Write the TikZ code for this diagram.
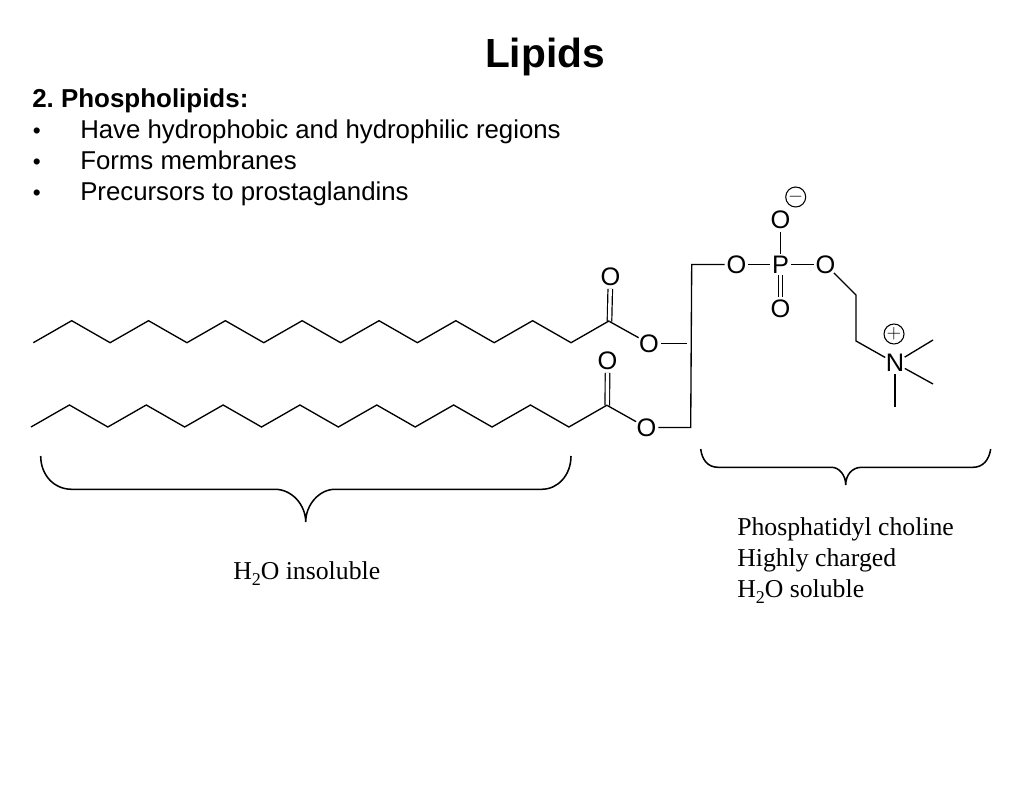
\documentclass[tikz,border=0pt]{standalone}
\usepackage{fontspec}
\setmainfont{Liberation Serif}
\setsansfont{Liberation Sans}
\usetikzlibrary{positioning}
\newcommand{\lowtwo}{\raisebox{-0.25em}{\fontsize{13.5}{13.5}\selectfont 2}}
\frenchspacing
\tikzset{bond/.style = {line width=1pt, line join=miter, black},
         dbond/.style = {double, double distance=2.5pt, line width=0.9pt},
         brace/.style = {line width=1.15pt},
         atom/.style = {circle, inner sep=0pt, outer sep=-1pt, font=\sffamily\fontsize{19}{20}\selectfont},
         charge/.style = {circle, draw, line width=0.8pt, inner sep=0pt, minimum size=15pt, font=\fontsize{14}{14}\selectfont},
         heading/.style = {anchor=base west, inner sep=0pt, font=\sffamily\bfseries\fontsize{19.45}{20}\selectfont},
         item/.style = {anchor=base west, inner sep=0pt, font=\sffamily\fontsize{19.35}{20}\selectfont},
         note/.style = {anchor=base west, inner sep=0pt, align=left, font=\fontsize{19.3}{23}\selectfont}}

\begin{document}
\begin{tikzpicture}[x=0.75pt, y=-0.75pt]
    \useasboundingbox (0, 0) rectangle (1024, 791);

    \node [font=\sffamily\bfseries\fontsize{30.5}{32}\selectfont] (title) at (545, 57) {Lipids};
    \node [heading] (head) at (32, 108) {2. Phospholipids:};
    \foreach \y/\name/\txt in {139/hydro/Have hydrophobic and hydrophilic regions,
                               170/membr/Forms membranes,
                               201/prost/Precursors to prostaglandins} {
      \node [item, font=\sffamily\fontsize{17}{17}\selectfont] (b\name) at (32.7, \y) {•};
      \node [item] (\name) at (80, \y) {\txt};
    }

    % carbons
    \coordinate (c1) at (609.5, 321.5);
    \coordinate (c2) at (607.3, 405.5);
    \coordinate (gtop) at (691.7, 264.5);
    \coordinate (gmid) at (687, 343.5);
    \coordinate (gbot) at (690.7, 427.5);
    \coordinate (ch1) at (856, 295);
    \coordinate (ch2) at (856, 341);
    \coordinate (me1) at (933, 340);
    \coordinate (me2) at (933, 384);
    \coordinate (me3) at (895, 407);

    % atoms
    \node [atom] (o1) at (610.5, 277) {O};
    \node [atom] (o2) at (607.5, 361) {O};
    \node [atom] (oe1) at (649, 343.5) {O};
    \node [atom] (oe2) at (646.5, 427.5) {O};
    \node [atom] (op) at (736.5, 264.5) {O};
    \node [atom] (p) at (780.5, 264.5) {P};
    \node [atom] (oc) at (825.5, 264.5) {O};
    \node [atom] (ot) at (780.5, 220) {O};
    \node [atom] (ob) at (780.5, 309) {O};
    \node [atom] (n) at (895, 363) {N};
    \node [charge] (minus) at (795.7, 197) {$-$};
    \node [charge] (plus) at (894, 334) {$+$};

    \draw [bond, dbond] (o1) -- (c1);
    \draw [bond, dbond] (o2) -- (c2);
    \draw [bond] plot [samples at={0,...,15}] ({33.3 + 38.41 * \x}, {342.7 - 22 * mod(\x, 2)});
    \draw [bond] plot [samples at={0,...,15}] ({31 + 38.42 * \x}, {427 - 22 * mod(\x, 2)});
    \draw [bond] (c1) -- (oe1);
    \draw [bond] (c2) -- (oe2);
    \draw [bond] (oe1) -- (gmid);
    \draw [bond] (oe2) -- (gbot) -- (gtop) -- (op);
    \draw [bond] (op) -- (p);
    \draw [bond] (p) -- (oc);
    \draw [bond] (p) -- (ot);
    \draw [bond, dbond] (p) -- (ob);
    \draw [bond] (oc) -- (ch1) -- (ch2) -- (n);
    \draw [bond] (n) -- (me1);
    \draw [bond] (n) -- (me2);
    \draw [bond] (n) -- (me3);

    % braces
    \draw [brace] (40.7, 456) .. controls (40.7, 475) and (54, 489.3) .. (71.7, 489.3) -- (275, 489.3)
      .. controls (292, 489.3) and (305.7, 505) .. (305.7, 522)
      .. controls (305.7, 505) and (319, 489.3) .. (335, 489.3) -- (541.7, 489.3)
      .. controls (558, 489.3) and (571, 475) .. (571, 456);
    \draw [brace] (700.7, 449) .. controls (702, 460) and (708, 467.3) .. (718, 467.3) -- (831.7, 467.3)
      .. controls (839, 467.3) and (845.7, 475) .. (845.7, 485)
      .. controls (845.7, 475) and (852, 467.3) .. (861.7, 467.3) -- (973, 467.3)
      .. controls (983, 467.3) and (989, 460) .. (990.7, 449);

    \node [note] (insol) at (233, 579) {H\lowtwo O insoluble};
    \node [note] (choline) at (737, 597) {Phosphatidyl choline\\Highly charged\\H\lowtwo O soluble};
  \end{tikzpicture}
\end{document}
